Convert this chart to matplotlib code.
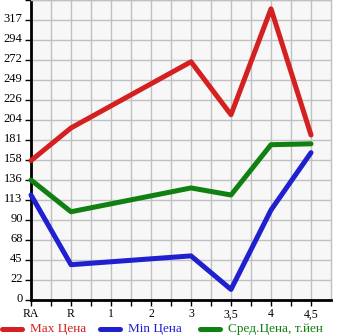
import matplotlib.pyplot as plt
import matplotlib.transforms as mtransforms
import numpy as np
from matplotlib.lines import Line2D

categories = ['RA', 'R', '1', '2', '3', '3,5', '4', '4,5']
# series only have values at some categories (index into categories)
pos = [0, 1, 4, 5, 6, 7]
max_price = [158, 195, 270, 210, 330, 187]
min_price = [119, 40, 50, 12, 102, 167]
avg_price = [136, 100, 127, 119, 176, 177]
ymax = 340
yticks = np.arange(0, ymax + 1, ymax / 15)
ylabels = [str(int(v)) for v in yticks[:-1]] + ['']

red = '#d42020'
blue = '#2020d0'
green = '#108010'

fig = plt.figure(figsize=(3.45, 3.35), dpi=100)
ax = fig.add_axes([31 / 345, 35 / 335, 300 / 345, 300 / 335])
ax.set_facecolor('#f7f7f7')

ax.plot(pos, max_price, color=red, lw=3.6, solid_capstyle='round', zorder=3, clip_on=False)
ax.plot(pos, min_price, color=blue, lw=3.6, solid_capstyle='round', zorder=3, clip_on=False)
ax.plot(pos, avg_price, color=green, lw=3.6, solid_capstyle='round', zorder=3, clip_on=False)

ax.set_xlim(0, 7.5)
ax.set_ylim(0, ymax)
ax.set_xticks(range(len(categories)))
ax.set_xticks(np.arange(0.5, 7.5, 1), minor=True)
ax.set_xticklabels(categories, fontsize=8.5, family='Liberation Serif')
ax.set_yticks(yticks)
ax.set_yticklabels(ylabels, fontsize=9, family='Liberation Serif')
ax.tick_params(axis='both', which='both', length=4, width=1, color='black', pad=2)
ax.grid(True, which='both', color='#c0c0c0', lw=1)
ax.set_axisbelow(True)
for s in ['top', 'right']:
    ax.spines[s].set_color('#c0c0c0')
    ax.spines[s].set_linewidth(1)
for s in ['left', 'bottom']:
    ax.spines[s].set_color('black')
    ax.spines[s].set_linewidth(2)

# y labels sit a little above their ticks
shift = mtransforms.ScaledTranslation(0, 3 / 100, fig.dpi_scale_trans)
for lab in ax.get_yticklabels():
    lab.set_transform(lab.get_transform() + shift)

# legend row
leg = [('Max Цена', red, 2), ('Min Цена', blue, 100), ('Сред.Цена, т.йен', green, 200)]
for label, c, x0 in leg:
    fig.add_artist(Line2D([x0 / 345, (x0 + 20) / 345], [6 / 335, 6 / 335],
                          color=c, lw=3.6, solid_capstyle='round'))
    fig.text((x0 + 28) / 345, 6 / 335, label, color=c, fontsize=9.5,
             family='Liberation Serif', va='center', ha='left')

fig.savefig('out.png', dpi=100)
